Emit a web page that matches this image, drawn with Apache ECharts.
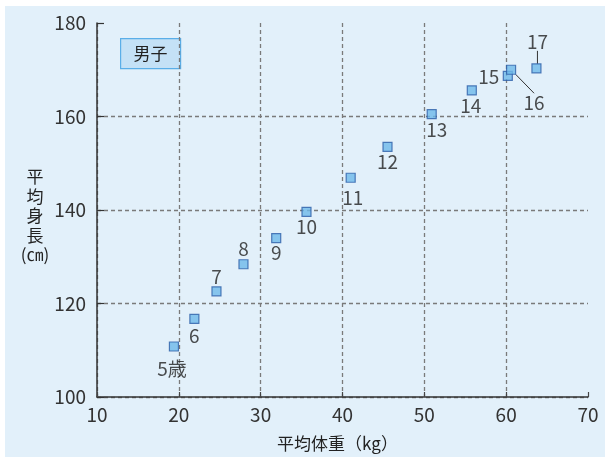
<!DOCTYPE html>
<html>
<head>
<meta charset="utf-8">
<script src="https://cdn.jsdelivr.net/npm/echarts@6/dist/echarts.min.js"></script>
<style>
html,body{margin:0;padding:0;background:#ffffff;}
#bg{position:absolute;left:5px;top:6px;width:600px;height:451px;background:#e2f0fa;}
#chart{position:absolute;left:0;top:0;width:605px;height:457px;}
</style>
</head>
<body>
<div id="bg"></div>
<div id="chart"></div>
<script>
// ages (labels), mean weight (kg), mean height (cm)
const ages    = ['5歳','6','7','8','9','10','11','12','13','14','15','16','17'];
const weights = [19.4, 21.9, 24.6, 27.9, 31.9, 35.6, 41.0, 45.5, 50.9, 55.8, 60.2, 60.6, 63.7];
const heights = [110.8, 116.7, 122.6, 128.4, 134.0, 139.6, 146.9, 153.5, 160.5, 165.6, 168.7, 170.0, 170.3];
const xTicks = [10, 20, 30, 40, 50, 60, 70];
const yTicks = [100, 120, 140, 160, 180];

// label placement (pixel offsets from the marker), styling only
const labelShift = [[-2,22],[0,17],[0,-15],[0,-15],[0,15],[0,15],[2,20],[0,15],[5,16],[-1,15],[-19,1],[23,33],[1,-27]];
const withLeader = [false,false,false,false,false,false,false,false,false,false,false,true,true];

const FONT = '"Noto Sans CJK JP", "Noto Sans", sans-serif';
const chart = echarts.init(document.getElementById('chart'), null, {renderer:'canvas'});

const data = weights.map((w,i)=>({
  value:[w, heights[i]],
  name: ages[i],
  labelLine: {show: withLeader[i]}
}));

chart.setOption({
  backgroundColor:'transparent',
  animation:false,
  grid:{left:97, right:17, top:23, bottom:56, containLabel:false},
  xAxis:{
    type:'value', min:xTicks[0], max:xTicks[xTicks.length-1], interval:10,
    name:'平均体重（kg）', nameLocation:'middle', nameGap:38,
    nameTextStyle:{fontFamily:FONT, fontSize:17, color:'#222', padding:[0,10,0,0]},
    axisLine:{show:true, lineStyle:{color:'#333', width:1.5}},
    axisTick:{show:true, inside:true, length:5, lineStyle:{color:'#444', width:1.2}},
    axisLabel:{fontFamily:FONT, fontSize:19, color:'#333', margin:8},
    splitLine:{show:true, showMaxLine:false, lineStyle:{color:'#7a7a7a', type:[4,3], width:1.3}}
  },
  yAxis:{
    type:'value', min:yTicks[0], max:yTicks[yTicks.length-1], interval:20,
    axisLine:{show:true, lineStyle:{color:'#333', width:1.5}},
    axisTick:{show:true, inside:true, length:7, lineStyle:{color:'#333', width:1.2}},
    axisLabel:{fontFamily:FONT, fontSize:19, color:'#333', margin:11},
    splitLine:{show:true, showMaxLine:false, lineStyle:{color:'#7a7a7a', type:[4,3], width:1.3}}
  },
  graphic:[
    {type:'group', left:120, top:38, children:[
      {type:'rect', shape:{x:0,y:0,width:60,height:30}, style:{fill:'#c4e1f6', stroke:'#5aaee8', lineWidth:1.2}},
      {type:'text', x:30, y:15, style:{text:'男子', font:'17px '+FONT, fill:'#222', align:'center', verticalAlign:'middle'}}
    ]},
    {type:'text', x:35, y:167, style:{text:'平\n均\n身\n長\n(㎝)', font:'17px '+FONT, fill:'#222', align:'center', lineHeight:19.5}}
  ],
  series:[{
    type:'scatter',
    data:data,
    symbol:'rect',
    symbolSize:9,
    itemStyle:{color:'#6eb9ea', borderColor:'#2c5ea8', borderWidth:1.2},
    label:{
      show:true, position:'inside', formatter:p=>p.name,
      fontFamily:FONT, fontSize:19, color:'#222'
    },
    labelLine:{show:false, lineStyle:{color:'#333', width:1}},
    labelLayout:function(p){
      const s = labelShift[p.dataIndex];
      return {dx:s[0], dy:s[1]};
    }
  }]
});
</script>
</body>
</html>
